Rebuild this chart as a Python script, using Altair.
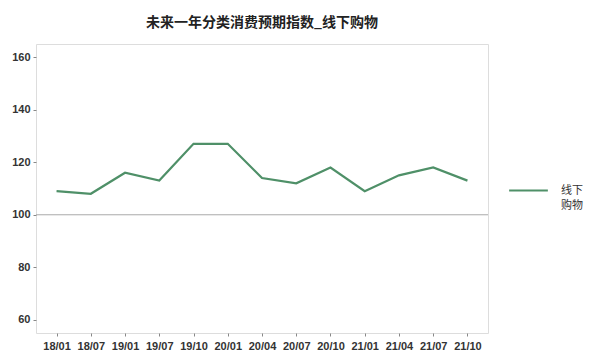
import altair as alt
import pandas as pd

periods = ["18/01", "18/07", "19/01", "19/07", "19/10", "20/01", "20/04",
           "20/07", "20/10", "21/01", "21/04", "21/07", "21/10"]
values = [109, 108, 116, 113, 127, 127, 114, 112, 118, 109, 115, 118, 113]
series_name = "线下购物"
baseline = [100]
y_ticks = [60, 80, 100, 120, 140, 160]

df = pd.DataFrame({"period": periods, "value": values, "series": series_name})
base_df = pd.DataFrame({"y": baseline})

x = alt.X("period:O", sort=periods, title=None,
          scale=alt.Scale(type="point", padding=0.6),
          axis=alt.Axis(labelAngle=0, labelFont="Liberation Sans", labelFontWeight="bold",
                        labelFontSize=11, labelColor="#333333", tickColor="#888888",
                        tickSize=3, domain=False, labelPadding=4))
y = alt.Y("value:Q", title=None,
          scale=alt.Scale(domain=[55, 165], nice=False, zero=False),
          axis=alt.Axis(values=y_ticks, labelFont="Liberation Sans", labelFontWeight="bold",
                        labelFontSize=11, labelColor="#333333", tickColor="#888888",
                        tickSize=3, domain=False, grid=False, labelPadding=3))

line = alt.Chart(df).mark_line(strokeWidth=2.2, color="#4f9068").encode(
    x=x, y=y,
    color=alt.Color("series:N",
                    scale=alt.Scale(range=["#4f9068"]),
                    legend=alt.Legend(title=None, orient="none", legendX=472, legendY=126,
                                      symbolType="stroke", symbolSize=1500,
                                      symbolStrokeWidth=2.2, labelFont="Noto Sans CJK SC",
                                      labelFontSize=11, labelColor="#333333",
                                      labelBaseline="middle",
                                      labelExpr="['线下', '购物']", labelOffset=12,
                                      labelLimit=80))
)

rule = alt.Chart(base_df).mark_rule(color="#aaaaaa", strokeWidth=1).encode(y=alt.Y("y:Q"))

chart = alt.layer(rule, line).properties(
    width=452, height=289,
    autosize=alt.AutoSizeParams(type="none"),
    padding={"left": 28, "top": 36, "right": 96, "bottom": 20},
    title=alt.Title("未来一年分类消费预期指数_线下购物", font="Noto Sans CJK SC",
                    fontSize=14, fontWeight="bold", color="#222222", offset=14, anchor="middle"),
).configure_view(stroke="#a0a0a0", strokeWidth=1.6).configure(
    background="white", style={"guide-label": {"lineHeight": 15}})

chart.save("out.html", embed_options={"renderer": "svg", "actions": False})
